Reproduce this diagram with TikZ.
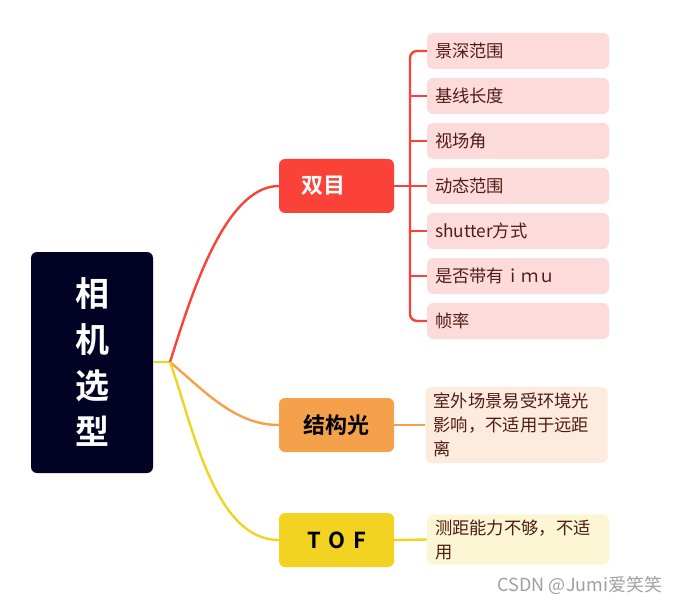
\documentclass[tikz,border=0pt]{standalone}
\usepackage{fontspec}
\setmainfont{Noto Sans CJK SC}[BoldFont={Noto Sans CJK SC Bold}]
\definecolor{rootbg}{RGB}{2,2,36}
\definecolor{redbr}{RGB}{250,66,57}
\definecolor{orangebr}{RGB}{245,160,75}
\definecolor{yellowbr}{RGB}{242,211,34}
\definecolor{pinkleaf}{RGB}{254,219,219}
\definecolor{peachleaf}{RGB}{253,235,221}
\definecolor{creamleaf}{RGB}{252,246,213}
\definecolor{leaftext}{RGB}{80,28,22}
\tikzset{
  root/.style={fill=rootbg,rounded corners=6pt,minimum width=122pt,minimum height=221pt,
    text=white,align=center,font=\fontsize{34}{46}\selectfont\bfseries},
  topic/.style={rounded corners=6pt,minimum width=115pt,minimum height=54pt,
    font=\fontsize{22}{24}\selectfont\bfseries},
  leaf/.style={rounded corners=6pt,text width=166pt,inner xsep=8pt,inner ysep=5pt,
    minimum height=36pt,align=left,text=leaftext,font=\fontsize{17.3}{24}\selectfont},
  branch/.style={line width=2.4pt}
}
\begin{document}
\begin{tikzpicture}[x=1pt,y=-1pt]
\useasboundingbox (0,0) rectangle (677,604);
\node[root] (xiangji) at (92,362.5) {相\\机\\选\\型};
\coordinate (hub) at (170,362);
\node[topic,fill=redbr,text=white] (shuangmu) at (336.5,186) {\hspace*{-26pt}双目};
\node[topic,fill=orangebr] (jiegou) at (336.5,425) {结构光};
\node[topic,fill=yellowbr] (tof) at (336.5,540) {T\hspace{0.35em}O\hspace{0.35em}F};
\node[leaf,fill=pinkleaf] (l1) at (518,51) {景深范围};
\node[leaf,fill=pinkleaf] (l2) at (518,96) {基线长度};
\node[leaf,fill=pinkleaf] (l3) at (518,141) {视场角};
\node[leaf,fill=pinkleaf] (l4) at (518,186) {动态范围};
\node[leaf,fill=pinkleaf] (l5) at (518,231) {shutter方式};
\node[leaf,fill=pinkleaf] (l6) at (518,276) {是否带有ｉｍｕ};
\node[leaf,fill=pinkleaf] (l7) at (518,321) {帧率};
\node[leaf,fill=peachleaf,inner ysep=6pt] (jgnote) at (516.5,425) {室外场景易受环境光\\影响，不适用于远距\\离};
\node[leaf,fill=creamleaf] (tofnote) at (518,539.5) {测距能力不够，不适\\用};
\node[text=gray!75,font=\fontsize{18}{20}\selectfont] (mark) at (580,585) {CSDN @Jumi爱笑笑};
\coordinate (bx) at (410,186);
\draw[branch,yellowbr] (xiangji.east |- hub) -- (hub);
\draw[branch,redbr] (hub) to[out=72,in=180,looseness=0.7] (shuangmu.west);
\draw[branch,orangebr] (hub) to[out=-40,in=180,looseness=0.9] (jiegou.west);
\draw[branch,yellowbr] (hub) to[out=-70,in=180,looseness=0.8] (tof.west);
\draw[branch,redbr] (shuangmu.east) -- (l4.west);
\draw[branch,redbr,rounded corners=7pt] (l1.west) -- (l1.west -| bx) -- (l7.west -| bx) -- (l7.west);
\foreach \n in {l2,l3,l5,l6}
  \draw[branch,redbr] (\n.west -| bx) -- (\n.west);
\draw[branch,orangebr] (jiegou.east) -- (jgnote.west);
\draw[branch,yellowbr] (tof.east) -- (tofnote.west);
\end{tikzpicture}
\end{document}
